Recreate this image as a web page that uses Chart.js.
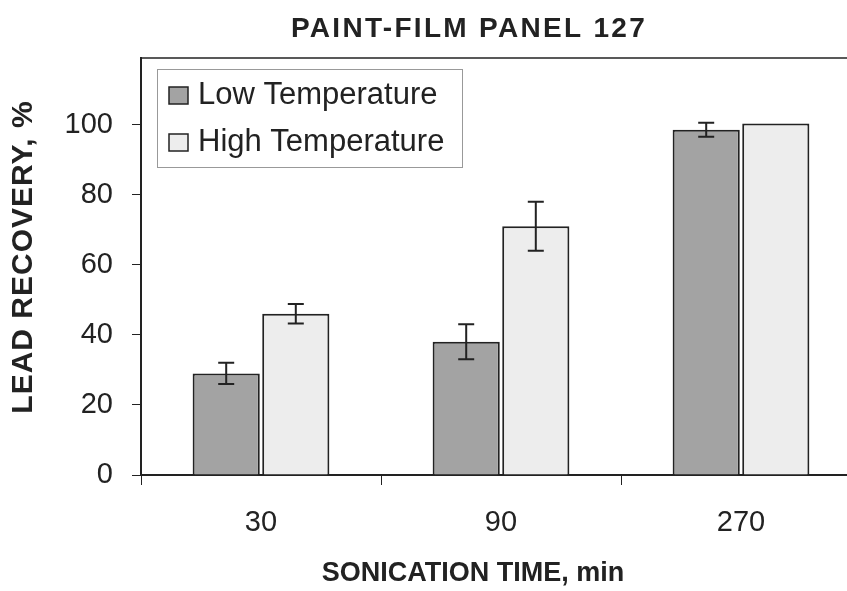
<!DOCTYPE html>
<html>
<head>
<meta charset="utf-8">
<script src="https://cdn.jsdelivr.net/npm/chart.js@4.4.1/dist/chart.umd.min.js"></script>
<style>
  html, body { margin: 0; padding: 0; background: #fff; overflow: hidden; }
  #wrap { width: 847px; height: 591px; overflow: hidden; }
  #wrap canvas { display: block; }
</style>
</head>
<body>
<div id="wrap"><canvas id="bar-chart" width="870" height="591"></canvas></div>
<script>
// data
var times = ["30", "90", "270"];
var lowTemp = [29, 38, 98.5];
var lowErr = [3, 5, 2];
var highTemp = [46, 71, 100.3];
var highErr = [2.8, 7, 0];
var yTicks = [0, 20, 40, 60, 80, 100];

var chartTitle = 'PAINT-FILM PANEL 127';
var xTitle = 'SONICATION TIME, min';
var yTitle = 'LEAD RECOVERY, %';

var ink = '#222';
var font = "'Liberation Sans', Arial, sans-serif";

// error bars, legend box, titles and top frame line
var extras = {
  id: 'extras',
  afterDatasetsDraw: function(chart) {
    var ctx = chart.ctx;
    var y = chart.scales.y;
    var errs = [lowErr, highErr];
    ctx.save();
    ctx.strokeStyle = ink;
    ctx.lineWidth = 2;
    chart.data.datasets.forEach(function(ds, i) {
      var meta = chart.getDatasetMeta(i);
      meta.data.forEach(function(bar, j) {
        var e = errs[i][j];
        if (!e) return;
        var v = ds.data[j];
        var top = y.getPixelForValue(v + e);
        var bot = y.getPixelForValue(v - e);
        ctx.beginPath();
        ctx.moveTo(bar.x, top); ctx.lineTo(bar.x, bot);
        ctx.moveTo(bar.x - 8, top); ctx.lineTo(bar.x + 8, top);
        ctx.moveTo(bar.x - 8, bot); ctx.lineTo(bar.x + 8, bot);
        ctx.stroke();
      });
    });
    ctx.restore();
  },
  afterDraw: function(chart) {
    var ctx = chart.ctx;
    var a = chart.chartArea;
    ctx.save();
    // top frame
    ctx.strokeStyle = ink;
    ctx.lineWidth = 1.5;
    ctx.beginPath();
    ctx.moveTo(a.left, a.top); ctx.lineTo(a.right, a.top);
    ctx.stroke();

    // titles
    ctx.fillStyle = ink;
    ctx.textAlign = 'center';
    ctx.textBaseline = 'middle';
    ctx.font = "bold 28px " + font;
    ctx.letterSpacing = '2.3px';
    ctx.fillText(chartTitle, 469, 29);
    ctx.font = "bold 27px " + font;
    ctx.letterSpacing = '0px';
    ctx.fillText(xTitle, 473, 574);
    ctx.save();
    ctx.translate(24, 257);
    ctx.rotate(-Math.PI / 2);
    ctx.font = "bold 30px " + font;
    ctx.letterSpacing = '1px';
    ctx.fillText(yTitle, 0, 0);
    ctx.restore();
    ctx.letterSpacing = '0px';

    // legend
    var lx = a.left + 16, ly = a.top + 11;
    ctx.textAlign = 'left';
    ctx.fillStyle = '#fff';
    ctx.fillRect(lx, ly, 305, 98);
    ctx.strokeStyle = '#999';
    ctx.lineWidth = 1;
    ctx.strokeRect(lx + 0.5, ly + 0.5, 305, 98);
    ctx.font = "31px " + font;
    chart.data.datasets.forEach(function(ds, i) {
      var cy = ly + 26 + i * 47;
      ctx.fillStyle = ds.backgroundColor;
      ctx.fillRect(lx + 12, cy - 8, 19, 17);
      ctx.strokeStyle = ink;
      ctx.lineWidth = 1.5;
      ctx.strokeRect(lx + 12, cy - 8, 19, 17);
      ctx.fillStyle = ink;
      ctx.fillText(ds.label, lx + 41, cy);
    });
    ctx.restore();
  }
};

new Chart(document.getElementById("bar-chart"), {
  type: 'bar',
  data: {
    labels: times,
    datasets: [
      {
        label: "Low Temperature",
        backgroundColor: '#a3a3a3',
        borderColor: ink,
        borderWidth: 2,
        data: lowTemp
      },
      {
        label: "High Temperature",
        backgroundColor: '#ededed',
        borderColor: ink,
        borderWidth: 2,
        data: highTemp
      }
    ]
  },
  plugins: [extras],
  options: {
    responsive: false,
    animation: false,
    layout: { padding: { left: 0, right: 9, top: 58, bottom: 0 } },
    categoryPercentage: 0.58,
    barPercentage: 0.965,
    plugins: {
      legend: { display: false },
      tooltip: { enabled: false },
      title: { display: false }
    },
    scales: {
      x: {
        grid: { offset: true, drawOnChartArea: false, tickLength: 10, color: ink, lineWidth: 1 },
        border: { color: ink, width: 2 },
        ticks: { color: ink, padding: 21, font: { family: font, size: 29 } },
        afterFit: function(s) { s.height = 116; }
      },
      y: {
        min: 0,
        max: 119,
        grid: { drawOnChartArea: false, tickLength: 9, color: ink, lineWidth: 1 },
        border: { color: ink, width: 2 },
        ticks: { color: ink, padding: 19, stepSize: 20, font: { family: font, size: 29 } },
        afterBuildTicks: function(s) {
          s.ticks = yTicks.map(function(v) { return { value: v }; });
        },
        afterFit: function(s) { s.width = 141; }
      }
    }
  }
});
</script>
</body>
</html>
